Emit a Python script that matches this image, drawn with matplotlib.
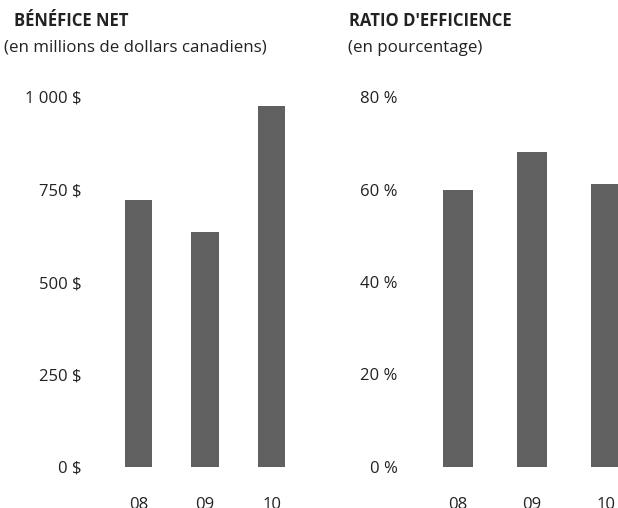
import matplotlib
matplotlib.use("Agg")
import matplotlib.pyplot as plt

years = ["08", "09", "10"]
net_income = [722, 635, 976]
efficiency = [59.9, 68.1, 61.2]
income_ticks = [0, 250, 500, 750, 1000]
income_labels = ["0 $", "250 $", "500 $", "750 $", "1 000 $"]
eff_ticks = [0, 20, 40, 60, 80]
eff_labels = ["0 %", "20 %", "40 %", "60 %", "80 %"]

plt.rcParams['font.family'] = ['Open Sans', 'DejaVu Sans']
W, H = 618, 508
fig = plt.figure(figsize=(W / 100, H / 100), dpi=100)
bar_color = "#606060"
text_color = "#222222"

def px_axes(x0, x1, ytop, ybot):
    return fig.add_axes([x0 / W, 1 - ybot / H, (x1 - x0) / W, (ybot - ytop) / H])

def style(ax, ticks, labels, ymax):
    ax.set_ylim(0, ymax)
    ax.set_xlim(-0.5, 2.5)
    ax.set_yticks(ticks)
    ax.set_yticklabels(labels)
    ax.set_xticks(range(len(years)))
    ax.set_xticklabels(years)
    for s in ax.spines.values():
        s.set_visible(False)
    ax.tick_params(axis='y', length=0, pad=17, labelsize=12, labelcolor=text_color)
    ax.tick_params(axis='x', length=0, pad=21.5, labelsize=12, labelcolor=text_color)
    ax.patch.set_alpha(0)

ax1 = px_axes(105, 305, 97, 467)
ax1.bar(range(len(years)), net_income, width=0.41, color=bar_color)
style(ax1, income_ticks, income_labels, 1000)

ax2 = px_axes(421, 643, 97, 467)
ax2.bar(range(len(years)), efficiency, width=0.405, color=bar_color)
style(ax2, eff_ticks, eff_labels, 80)

fig.text(14 / W, 1 - 21 / H, "BÉNÉFICE NET", fontsize=12, fontweight='bold',
         color=text_color, va='center', ha='left')
fig.text(4 / W, 1 - 48 / H, "(en millions de dollars canadiens)", fontsize=12.2,
         color=text_color, va='center', ha='left')
fig.text(349 / W, 1 - 21 / H, "RATIO D'EFFICIENCE", fontsize=12, fontweight='bold',
         color=text_color, va='center', ha='left')
fig.text(348 / W, 1 - 48 / H, "(en pourcentage)", fontsize=12.2,
         color=text_color, va='center', ha='left')

fig.savefig("out.png", dpi=100)
